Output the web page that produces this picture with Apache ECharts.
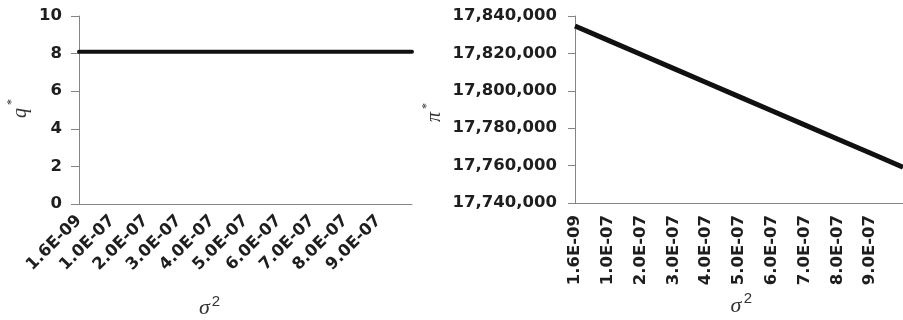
<!DOCTYPE html>
<html>
<head>
<meta charset="utf-8">
<script src="https://cdn.jsdelivr.net/npm/echarts@6/dist/echarts.min.js"></script>
<style>
html,body{margin:0;padding:0;background:#fff;}
#chart{width:903px;height:320px;}
</style>
</head>
<body>
<div id="chart"></div>
<script>
// categories (sigma^2)
const categories = ['1.6E-09','1.0E-07','2.0E-07','3.0E-07','4.0E-07','5.0E-07','6.0E-07','7.0E-07','8.0E-07','9.0E-07','1.0E-06'];
// q* values
const qValues = [8.1, 8.1, 8.1, 8.1, 8.1, 8.1, 8.1, 8.1, 8.1, 8.1, 8.1];
// pi* values
const piValues = [17834650, 17827100, 17819550, 17812000, 17804450, 17796900, 17789350, 17781800, 17774250, 17766700, 17759150];
// y tick settings
const qTicks = {min: 0, max: 10, interval: 2};
const piTicks = {min: 17740000, max: 17840000, interval: 20000};

const axisGray = '#858585';
const labelColor = '#1e1e1e';
const labelFont = {fontFamily: 'DejaVu Sans', fontWeight: 'bold', fontSize: 16.5, color: labelColor};

const chart = echarts.init(document.getElementById('chart'), null, {renderer: 'canvas'});
const hideLast = (idx) => idx < categories.length - 1;

chart.setOption({
  animation: false,
  backgroundColor: '#fff',
  grid: [
    {left: 79, top: 16, width: 333, height: 188},
    {left: 575, top: 16, width: 333, height: 187}
  ],
  xAxis: [
    {type: 'category', gridIndex: 0, data: categories, boundaryGap: false,
     axisLine: {lineStyle: {color: axisGray, width: 1}},
     axisTick: {show: false},
     axisLabel: Object.assign({rotate: 45, margin: 14, interval: 0, formatter: (v, i) => hideLast(i) ? v : ''}, labelFont),
     splitLine: {show: false}},
    {type: 'category', gridIndex: 1, data: categories, boundaryGap: false,
     axisLine: {lineStyle: {color: axisGray, width: 1}},
     axisTick: {show: false},
     axisLabel: Object.assign({rotate: 90, margin: 12, interval: 0, formatter: (v, i) => hideLast(i) ? v : ''}, labelFont),
     splitLine: {show: false}}
  ],
  yAxis: [
    {type: 'value', gridIndex: 0, min: qTicks.min, max: qTicks.max, interval: qTicks.interval,
     axisLine: {show: true, lineStyle: {color: axisGray, width: 1}},
     axisTick: {show: true, length: 8, lineStyle: {color: axisGray}},
     axisLabel: Object.assign({margin: 17}, labelFont),
     splitLine: {show: false}},
    {type: 'value', gridIndex: 1, min: piTicks.min, max: piTicks.max, interval: piTicks.interval,
     axisLine: {show: true, lineStyle: {color: axisGray, width: 1}},
     axisTick: {show: true, length: 7, lineStyle: {color: axisGray}},
     axisLabel: Object.assign({margin: 18, formatter: (v) => v.toLocaleString('en-US')}, labelFont),
     splitLine: {show: false}}
  ],
  series: [
    {type: 'line', xAxisIndex: 0, yAxisIndex: 0, data: qValues, symbol: 'none',
     lineStyle: {color: '#111', width: 4, cap: 'round'}},
    {type: 'line', xAxisIndex: 1, yAxisIndex: 1, data: piValues, symbol: 'none',
     lineStyle: {color: '#111', width: 5, cap: 'butt'}}
  ],
  graphic: [
    {type: 'text', x: 21, y: 113, rotation: Math.PI / 2,
     style: {text: 'q', fontFamily: 'Liberation Serif', fontStyle: 'italic', fontSize: 20, fill: '#333', align: 'center', verticalAlign: 'middle'}},
    {type: 'text', x: 12, y: 102, rotation: Math.PI / 2,
     style: {text: '*', fontFamily: 'Liberation Serif', fontSize: 12, fill: '#333', align: 'center', verticalAlign: 'middle'}},
    {type: 'text', x: 435, y: 117, rotation: Math.PI / 2,
     style: {text: 'π', fontFamily: 'Liberation Serif', fontStyle: 'italic', fontSize: 20, fill: '#333', align: 'center', verticalAlign: 'middle'}},
    {type: 'text', x: 427, y: 106, rotation: Math.PI / 2,
     style: {text: '*', fontFamily: 'Liberation Serif', fontSize: 12, fill: '#333', align: 'center', verticalAlign: 'middle'}},
    {type: 'text', x: 204.5, y: 308,
     style: {text: 'σ', fontFamily: 'Liberation Serif', fontStyle: 'italic', fontSize: 22, fill: '#333', align: 'center', verticalAlign: 'middle'}},
    {type: 'text', x: 216, y: 302,
     style: {text: '2', fontFamily: 'Liberation Sans', fontSize: 15, fill: '#333', align: 'center', verticalAlign: 'middle'}},
    {type: 'text', x: 736, y: 306,
     style: {text: 'σ', fontFamily: 'Liberation Serif', fontStyle: 'italic', fontSize: 22, fill: '#333', align: 'center', verticalAlign: 'middle'}},
    {type: 'text', x: 748, y: 299,
     style: {text: '2', fontFamily: 'Liberation Sans', fontSize: 15, fill: '#333', align: 'center', verticalAlign: 'middle'}}
  ]
});
</script>
</body>
</html>
